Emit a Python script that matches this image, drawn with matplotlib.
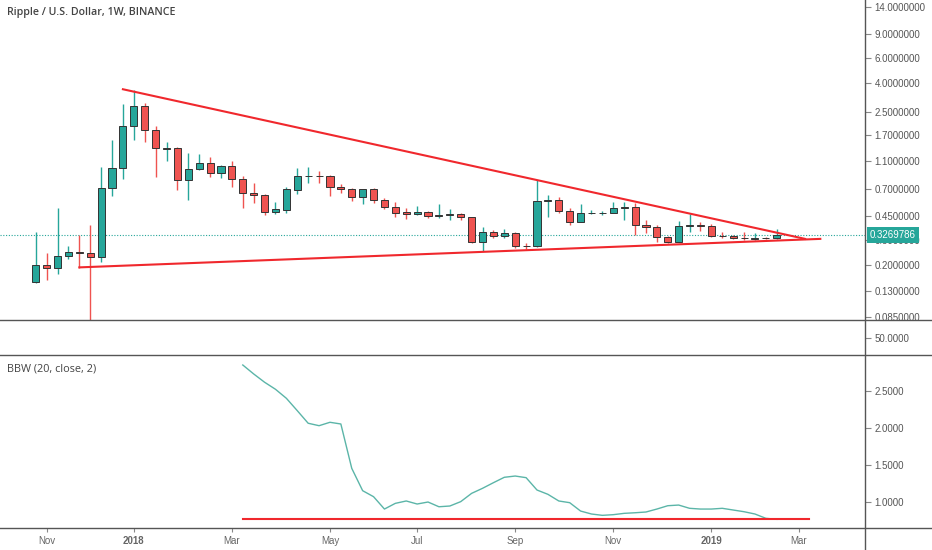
import numpy as np
import pandas as pd
import matplotlib
matplotlib.use('Agg')
import matplotlib.pyplot as plt
from matplotlib.lines import Line2D
from matplotlib.ticker import FixedLocator, NullLocator, FixedFormatter

# weekly candles, XRP/USD on Binance, first bar opens on this Monday
start = '2017-10-30'
opens = [0.150, 0.200, 0.189, 0.233, 0.246, 0.242, 0.229, 0.707, 0.982, 1.98,
         2.75, 1.83, 1.36, 1.38, 0.81, 0.966, 1.07, 0.905, 1.02, 0.82,
         0.657, 0.633, 0.481, 0.494, 0.687, 0.865, 0.87, 0.865, 0.726, 0.699,
         0.609, 0.695, 0.583, 0.522, 0.476, 0.463, 0.481, 0.448, 0.453, 0.460,
         0.438, 0.293, 0.342, 0.322, 0.340, 0.273, 0.271, 0.576, 0.580, 0.486,
         0.408, 0.468, 0.471, 0.473, 0.513, 0.519, 0.386, 0.374, 0.318, 0.293,
         0.380, 0.386, 0.380, 0.324, 0.320, 0.311, 0.307, 0.313, 0.311]
highs = [0.342, 0.242, 0.508, 0.275, 0.327, 0.386, 1.00, 1.566, 2.82, 3.57,
         2.87, 1.98, 1.51, 1.40, 1.257, 1.237, 1.18, 1.037, 1.113, 0.865,
         0.775, 0.640, 0.564, 0.726, 0.982, 1.01, 0.944, 0.880, 0.758, 0.714,
         0.699, 0.714, 0.600, 0.567, 0.508, 0.528, 0.486, 0.546, 0.500, 0.473,
         0.443, 0.375, 0.356, 0.360, 0.346, 0.286, 0.810, 0.633, 0.609, 0.508,
         0.543, 0.494, 0.486, 0.567, 0.559, 0.552, 0.421, 0.386, 0.324, 0.415,
         0.463, 0.408, 0.390, 0.346, 0.327, 0.342, 0.337, 0.318, 0.360]
lows = [0.148, 0.156, 0.171, 0.220, 0.189, 0.070, 0.211, 0.626, 0.820, 1.57,
        1.52, 0.85, 1.11, 0.687, 0.583, 0.955, 0.855, 0.841, 0.719, 0.508,
        0.552, 0.455, 0.463, 0.473, 0.643, 0.767, 0.775, 0.626, 0.651, 0.576,
        0.546, 0.552, 0.502, 0.438, 0.424, 0.455, 0.431, 0.431, 0.419, 0.419,
        0.286, 0.252, 0.313, 0.313, 0.263, 0.259, 0.268, 0.443, 0.473, 0.386,
        0.404, 0.460, 0.455, 0.468, 0.419, 0.329, 0.341, 0.293, 0.286, 0.290,
        0.346, 0.352, 0.318, 0.310, 0.307, 0.302, 0.299, 0.307, 0.307]
closes = [0.200, 0.189, 0.233, 0.246, 0.242, 0.229, 0.714, 0.982, 1.98, 2.75,
          1.83, 1.37, 1.38, 0.81, 0.966, 1.077, 0.905, 1.02, 0.82, 0.651,
          0.633, 0.481, 0.500, 0.695, 0.865, 0.87, 0.865, 0.726, 0.699, 0.609,
          0.695, 0.583, 0.522, 0.473, 0.463, 0.481, 0.448, 0.455, 0.460, 0.438,
          0.293, 0.342, 0.322, 0.340, 0.273, 0.271, 0.576, 0.580, 0.486, 0.408,
          0.468, 0.473, 0.473, 0.513, 0.519, 0.384, 0.374, 0.318, 0.293, 0.380,
          0.386, 0.380, 0.324, 0.320, 0.310, 0.309, 0.313, 0.312, 0.3269786]
last_price = 0.3269786

# Bollinger band width (20, close, 2), first value on bar 19
bbw_first = 19
bbw = [2.851, 2.730, 2.618, 2.523, 2.401, 2.234, 2.064, 2.031, 2.077, 2.054,
       1.455, 1.153, 1.072, 0.905, 0.982, 1.014, 0.973, 1.000, 0.936, 0.946,
       1.005, 1.117, 1.185, 1.261, 1.334, 1.351, 1.329, 1.162, 1.104, 1.014,
       0.991, 0.878, 0.838, 0.820, 0.829, 0.847, 0.855, 0.865, 0.905, 0.950,
       0.959, 0.915, 0.905, 0.905, 0.915, 0.892, 0.869, 0.838, 0.780, 0.766]

# drawn lines (bar index, value)
upper_x = [8.0, 70.6]
upper_y = [3.61, 0.307]
lower_x = [4.0, 72.0]
lower_y = [0.192, 0.307]
floor_x = [19, 71]
floor_y = 0.766

price_ticks = [14, 9, 6, 4, 2.5, 1.7, 1.1, 0.7, 0.45, 0.3, 0.2, 0.13, 0.085]
bbw_ticks = [1.0, 1.5, 2.0, 2.5]
month_starts = ['2017-11-01', '2018-01-01', '2018-03-01', '2018-05-01', '2018-07-01',
                '2018-09-01', '2018-11-01', '2019-01-01', '2019-03-01']
month_labels = ['Nov', '2018', 'Mar', 'May', 'Jul', 'Sep', 'Nov', '2019', 'Mar']

UP = '#26a69a'
DOWN = '#ef5350'
LINE_RED = '#f0282d'
SEP_C = '#555555'
TXT = '#555555'

plt.rcParams['font.family'] = ['Liberation Sans', 'DejaVu Sans']

W, H = 932, 550
fig = plt.figure(figsize=(W / 100, H / 100), dpi=100)
fig.patch.set_facecolor('white')
right = 865 / W


def box(y0, y1):
    return [0, 1 - y1 / H, right, (y1 - y0) / H]


ax = fig.add_axes(box(0, 320))
axm = fig.add_axes(box(320, 355))
axb = fig.add_axes(box(355, 528))

n = len(opens)
x = np.arange(n)
o = np.array(opens); c = np.array(closes)
hi = np.array(highs); lo = np.array(lows)
cols = np.where(c >= o, UP, DOWN)

ax.set_yscale('log')
ax.vlines(x, lo, hi, colors=cols, lw=1, zorder=2)
ax.bar(x, np.abs(c - o), bottom=np.minimum(o, c), width=0.65, color=cols,
       edgecolor='#333333', linewidth=0.7, zorder=3)
ax.plot(upper_x, upper_y, color=LINE_RED, lw=1.5, zorder=4)
ax.plot(lower_x, lower_y, color=LINE_RED, lw=1.5, zorder=4)
ax.axhline(last_price, color=UP, ls=(0, (1, 1.5)), lw=0.8, zorder=1)

xmin, xmax = -3.28, 76.1
ax.set_xlim(xmin, xmax)
ax.set_ylim(0.0807, 15.7)
ax.yaxis.set_major_locator(FixedLocator(price_ticks))
ax.yaxis.set_minor_locator(NullLocator())
ax.yaxis.set_major_formatter(FixedFormatter(['%.7f' % v for v in price_ticks]))
ax.annotate('%.7f' % last_price, xy=(1, last_price), xycoords=('axes fraction', 'data'),
            xytext=(3.5, 0), textcoords='offset points', ha='left', va='center',
            fontsize=7, color='white', annotation_clip=False,
            bbox=dict(boxstyle='square,pad=0.3', fc=UP, ec='none'), zorder=10)
ax.text(0.008, 1 - 13 / 320, 'Ripple / U.S. Dollar, 1W, BINANCE',
        transform=ax.transAxes, ha='left', va='center', fontsize=7.7,
        color='#444444', family=['Open Sans', 'DejaVu Sans'], fontweight='semibold')

axm.set_xlim(xmin, xmax)
axm.set_ylim(0, 100)
axm.set_yticks([50])
axm.set_yticklabels(['50.0000'])

bx = np.arange(bbw_first, bbw_first + len(bbw))
axb.plot(bx, bbw, color='#5bb5a8', lw=1)
axb.plot(floor_x, [floor_y, floor_y], color=LINE_RED, lw=1.5)
axb.set_xlim(xmin, xmax)
axb.set_ylim(0.649, 2.986)
axb.set_yticks(bbw_ticks)
axb.set_yticklabels(['%.4f' % v for v in bbw_ticks])
axb.text(0.008, 0.92, 'BBW (20, close, 2)', transform=axb.transAxes, ha='left',
         va='center', fontsize=7.8, color='#444444', family=['Open Sans', 'DejaVu Sans'])

# month ticks sit on the first weekly bar that opens inside that month
t0 = pd.Timestamp(start)
tick_idx = [int(np.ceil((pd.Timestamp(d) - t0).days / 7)) for d in month_starts]
axb.set_xticks(tick_idx)
axb.set_xticklabels(month_labels)
for lab in axb.get_xticklabels():
    if lab.get_text().isdigit():
        lab.set_fontweight('bold')
        lab.set_color('#333333')

for a in (ax, axm, axb):
    a.set_facecolor('white')
    for s in a.spines.values():
        s.set_visible(False)
    a.yaxis.tick_right()
    a.tick_params(axis='y', direction='out', length=4, width=0.8, color='#888888',
                  labelsize=7, labelcolor=TXT, pad=3)
    if a is not axb:
        a.set_xticks([])
axb.tick_params(axis='x', direction='out', length=3, width=0.8, color='#888888',
                labelsize=7, labelcolor='#666666', pad=2.5)

for yy in (320, 355, 528):
    fig.add_artist(Line2D([0, 1], [1 - yy / H, 1 - yy / H], transform=fig.transFigure,
                          color=SEP_C, lw=1))
fig.add_artist(Line2D([right, right], [0, 1], transform=fig.transFigure, color=SEP_C, lw=1))

fig.savefig('out.png', dpi=100, facecolor='white')
